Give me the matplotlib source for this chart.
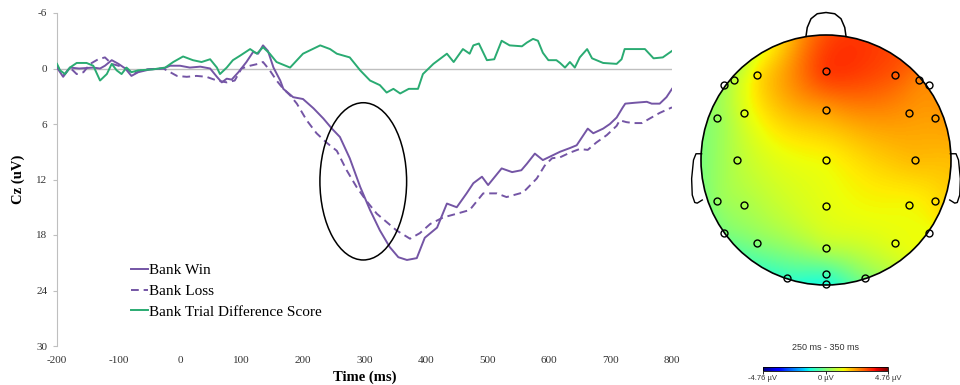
import numpy as np
import matplotlib
matplotlib.use("Agg")
import matplotlib.pyplot as plt
from matplotlib.patches import Ellipse, Circle

plt.rcParams["axes.unicode_minus"] = False

# ERP waveforms at Cz (ms, uV)
win_t = [-200, -190, -179, -164, -141, -130, -122, -111, -100, -89, -79, -68, -49, -27, -16, 0, 16, 33,
         49, 60, 68, 76, 84, 95, 108, 119, 127, 135, 143, 152, 163, 168, 184, 200, 217, 233, 247, 260,
         276, 293, 309, 325, 341, 355, 369, 385, 398, 418, 434, 450, 466, 477, 491, 501, 523, 540, 555,
         564, 577, 590, 618, 634, 645, 655, 663, 672, 688, 699, 710, 720, 724, 740, 759, 767, 780, 791, 800]
win_v = [-0.1, 0.9, -0.1, 0.0, -0.1, 0.0, -0.3, -0.9, -0.5, 0.0, 0.8, 0.4, 0.1, 0.0, -0.3, -0.3, -0.1, -0.2,
         0.0, 0.9, 1.5, 1.1, 1.2, 0.4, -0.7, -1.8, -1.6, -2.5, -1.9, -0.1, 1.3, 2.2, 3.1, 3.3, 4.3, 5.4, 6.5, 7.4,
         9.7, 12.8, 15.3, 17.5, 19.3, 20.4, 20.7, 20.5, 18.3, 17.2, 14.6, 15.0, 13.5, 12.4, 11.7, 12.6, 10.8, 11.2, 11.0,
         10.3, 9.2, 9.9, 9.0, 8.6, 8.3, 7.3, 6.5, 7.0, 6.5, 6.0, 5.3, 4.2, 3.8, 3.7, 3.6, 3.8, 3.8, 3.1, 2.2]

loss_t = [-200, -190, -179, -168, -157, -146, -133, -122, -111, -100, -87, -76, -60, -27, -5, 11, 27, 43,
          60, 76, 89, 100, 114, 127, 135, 146, 157, 168, 179, 190, 206, 222, 238, 255, 271, 287, 303, 320,
          336, 352, 374, 390, 407, 428, 450, 471, 493, 515, 531, 558, 580, 593, 605, 618, 634, 650, 663,
          677, 694, 710, 715, 726, 737, 751, 764, 780, 800]
loss_v = [-0.3, 0.8, -0.1, 0.6, 0.4, -0.5, -1.0, -1.2, -0.5, -0.3, 0.0, 0.6, 0.1, 0.0, 0.8, 0.9, 0.8, 0.9,
          1.3, 1.5, 1.3, 0.0, -0.3, -0.5, -0.7, 0.2, 1.3, 2.2, 2.9, 3.8, 5.6, 7.0, 8.0, 8.9, 11.0, 12.8, 14.3, 15.7,
          16.6, 17.5, 18.4, 17.8, 16.8, 16.1, 15.7, 15.3, 13.5, 13.5, 13.9, 13.4, 11.9, 10.5, 9.7, 9.6, 9.1, 8.7, 8.8,
          8.0, 7.2, 6.2, 5.6, 5.8, 5.9, 5.9, 5.4, 4.8, 4.2]

diff_t = [-200, -195, -187, -179, -168, -152, -141, -130, -119, -111, -103, -95, -87, -79, -68, -45, -24, -11,
          5, 21, 35, 49, 60, 65, 76, 86, 98, 114, 125, 135, 146, 157, 179, 200, 228, 244, 255, 276, 293, 309,
          325, 336, 347, 358, 372, 387, 395, 412, 434, 445, 460, 471, 477, 486, 499, 511, 523, 536, 556, 564,
          574, 582, 590, 599, 612, 618, 626, 634, 642, 650, 662, 670, 688, 710, 718, 723, 740, 756, 770, 785, 800]
diff_v = [-0.5, 0.2, 0.6, -0.1, -0.6, -0.6, -0.3, 1.3, 0.6, -0.5, 0.2, 0.6, -0.1, 0.4, 0.2, 0.1, -0.1, -0.7,
          -1.3, -0.9, -0.7, -1.0, -0.1, 0.6, -0.1, -0.9, -1.4, -2.1, -1.6, -2.3, -1.6, -0.7, -0.1, -1.6, -2.5, -2.1,
          -1.6, -1.2, 0.2, 1.3, 1.8, 2.6, 2.2, 2.7, 2.2, 2.2, 0.6, -0.5, -1.6, -0.7, -2.1, -1.6, -2.5, -2.7, -0.9,
          -1.0, -3.0, -2.5, -2.4, -2.8, -3.2, -3.0, -1.7, -0.9, -0.9, -0.6, -0.1, -0.7, -0.1, -1.2, -2.1, -1.1, -0.6,
          -0.5, -1.0, -2.1, -2.1, -2.1, -1.1, -1.2, -1.9]

x_ticks = [-200, -100, 0, 100, 200, 300, 400, 500, 600, 700, 800]
y_ticks = [-6, 0, 6, 12, 18, 24, 30]

# topographic map, 250-350 ms (head radius = 1)
elec_x = [0.0, -0.55, 0.55, -0.74, -0.82, 0.74, 0.82, 0.0, -0.87, -0.66, 0.66, 0.87, -0.71, 0.0, 0.71,
          -0.87, -0.66, 0.0, 0.66, 0.87, -0.82, -0.55, 0.55, 0.82, 0.0, -0.31, 0.31, 0.0, 0.0]
elec_y = [0.71, 0.68, 0.68, 0.64, 0.60, 0.64, 0.60, 0.40, 0.34, 0.38, 0.38, 0.34, 0.0, 0.0, 0.0,
          -0.33, -0.36, -0.37, -0.36, -0.33, -0.58, -0.66, -0.66, -0.58, -0.70, -0.94, -0.94, -0.91, -0.99]
elec_v = [3.3, 1.6, 3.0, 0.8, 0.4, 2.6, 2.5, 2.3, 0.3, 1.1, 2.4, 2.3, 0.7, 1.4, 2.0,
          0.3, 0.5, 1.2, 1.4, 1.6, 0.0, 0.1, 1.2, 1.3, 0.7, -0.75, 0.1, -0.6, -1.0]
# values read along the scalp edge (degrees, 0 = right, 90 = nose)
rim_deg = [90, 67.5, 45, 22.5, 0, -22.5, -45, -67.5, -90, -112.5, -135, -157.5, 180, 157.5, 135, 112.5]
rim_v = [3.1, 3.3, 2.8, 2.4, 2.0, 1.7, 1.3, 0.3, -1.1, -0.8, -0.3, 0.0, 0.0, 0.3, 0.7, 1.7]
v_lim = 4.76
window_label = "250 ms - 350 ms"

purple = "#7455a5"
green = "#2aab72"
serif = "Liberation Serif"

fig = plt.figure(figsize=(9.6, 3.85), dpi=100)

ax = fig.add_axes([57 / 960, 1 - 346 / 385, 615 / 960, 333 / 385])
ax.axhline(0, color="#bfbfbf", lw=1.0, zorder=1)
ax.plot(win_t, win_v, color=purple, lw=1.4, label="Bank Win", zorder=3)
ax.plot(loss_t, loss_v, color=purple, lw=1.4, dashes=(4, 2.5), label="Bank Loss", zorder=3)
ax.plot(diff_t, diff_v, color=green, lw=1.4, label="Bank Trial Difference Score", zorder=3)
ax.add_patch(Ellipse((298, 12.2), 141, 17, fill=False, ec="black", lw=1.1, zorder=4))

ax.set_xlim(-200, 800)
ax.set_ylim(30, -6)
ax.set_xticks(x_ticks)
ax.set_yticks(y_ticks)
for s in ["top", "right", "bottom"]:
    ax.spines[s].set_visible(False)
ax.spines["left"].set_color("#bfbfbf")
ax.tick_params(axis="y", length=3, color="#bfbfbf", pad=4, labelsize=8)
ax.tick_params(axis="x", length=0, pad=7, labelsize=8)
for lab in ax.get_xticklabels() + ax.get_yticklabels():
    lab.set_family(serif)
    lab.set_color("#333333")
ax.set_xlabel("Time (ms)", family=serif, fontweight="bold", fontsize=10.5, labelpad=4)
ax.set_ylabel("Cz (uV)", family=serif, fontweight="bold", fontsize=10.5, labelpad=8)
ax.legend(loc="upper left", bbox_to_anchor=(0.108, 0.27), frameon=False,
          prop={"family": serif, "size": 11}, handlelength=1.1, handletextpad=0.1,
          labelspacing=0.45, borderpad=0)

# head map
hx = fig.add_axes([680 / 960, 1 - 290 / 385, 280 / 960, 290 / 385])
hx.set_xlim(-1.168, 1.072)
hx.set_ylim(-1.04, 1.28)
hx.axis("off")

rim_a = np.deg2rad(rim_deg)
sx = np.concatenate([elec_x, np.cos(rim_a)])
sy = np.concatenate([elec_y, np.sin(rim_a)])
sv = np.concatenate([elec_v, rim_v])
n = len(sx)


def tps(r):
    with np.errstate(divide="ignore", invalid="ignore"):
        out = r ** 2 * np.log(r)
    return np.nan_to_num(out)


d = np.hypot(sx[:, None] - sx[None, :], sy[:, None] - sy[None, :])
P = np.column_stack([np.ones(n), sx, sy])
A = np.zeros((n + 3, n + 3))
A[:n, :n] = tps(d) + 5e-3 * np.eye(n)
A[:n, n:] = P
A[n:, :n] = P.T
coef = np.linalg.solve(A, np.concatenate([sv, np.zeros(3)]))

g = np.linspace(-1.0, 1.0, 240)
gx, gy = np.meshgrid(g, g)
gd = np.hypot(gx.ravel()[:, None] - sx[None, :], gy.ravel()[:, None] - sy[None, :])
gz = tps(gd) @ coef[:n] + coef[n] + coef[n + 1] * gx.ravel() + coef[n + 2] * gy.ravel()
gz = gz.reshape(gx.shape)

head = Circle((0, 0), 1.0, transform=hx.transData, fill=False, ec="black", lw=1.2, zorder=5)
im = hx.imshow(gz, extent=(-1, 1, -1, 1), origin="lower", cmap="jet",
               vmin=-v_lim, vmax=v_lim, interpolation="bilinear", zorder=1)
im.set_clip_path(head)
hx.add_patch(head)

nose_x = [-0.16, -0.15, -0.12, -0.07, 0.0, 0.07, 0.12, 0.15, 0.16]
nose_y = [0.99, 1.06, 1.13, 1.17, 1.18, 1.17, 1.13, 1.06, 0.99]
hx.plot(nose_x, nose_y, color="black", lw=1.1)
ear_x = [-0.995, -1.04, -1.06, -1.075, -1.07, -1.05, -1.03, -0.99]
ear_y = [0.05, 0.05, 0.0, -0.15, -0.28, -0.34, -0.345, -0.32]
hx.plot(ear_x, ear_y, color="black", lw=1.0)
hx.plot([-v for v in ear_x], ear_y, color="black", lw=1.0, clip_on=False)

hx.plot(elec_x, elec_y, "o", ms=5, mfc="none", mec="black", mew=1.0, zorder=6)

fig.text(825 / 960, 1 - 348 / 385, window_label, ha="center", va="center",
         family="Liberation Sans", fontsize=6.5, color="#333333")

cx = fig.add_axes([763 / 960, 1 - 371 / 385, 125 / 960, 4 / 385])
cb = fig.colorbar(im, cax=cx, orientation="horizontal", ticks=[-v_lim, 0, v_lim])
cb.ax.set_xticklabels([f"-{v_lim} µV", "0 µV", f"{v_lim} µV"])
cb.ax.tick_params(length=2, width=0.6, pad=1, labelsize=5.5)
for lab in cb.ax.get_xticklabels():
    lab.set_family("Liberation Sans")
    lab.set_color("#333333")
cb.outline.set_linewidth(0.6)

fig.savefig("out.png", dpi=100)
